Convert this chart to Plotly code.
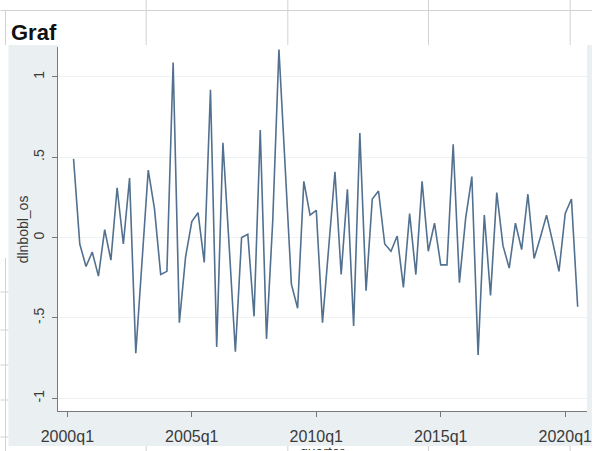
import plotly.graph_objects as go

# Quarterly first difference of log bobl_os, 2000q2 .. 2020q3
start_year = 2000
start_quarter = 2
dlnbobl_os = [
    0.49, -0.04, -0.18, -0.09, -0.24, 0.05, -0.14, 0.31, -0.04, 0.37,
    -0.72, -0.15, 0.42, 0.18, -0.23, -0.21, 1.09, -0.53, -0.12, 0.10,
    0.155, -0.155, 0.92, -0.68, 0.59, -0.05, -0.71, 0.00, 0.02, -0.49,
    0.67, -0.63, 0.10, 1.17, 0.45, -0.29, -0.44, 0.35, 0.14, 0.17,
    -0.53, -0.06, 0.41, -0.23, 0.30, -0.55, 0.65, -0.33, 0.24, 0.29,
    -0.04, -0.085, 0.01, -0.31, 0.15, -0.23, 0.35, -0.085, 0.09, -0.17,
    -0.17, 0.58, -0.28, 0.12, 0.38, -0.73, 0.14, -0.36, 0.28, -0.05,
    -0.19, 0.09, -0.075, 0.27, -0.13, 0.00, 0.14, -0.03, -0.21, 0.15,
    0.24, -0.43,
]
x_tick_labels = ["2000q1", "2005q1", "2010q1", "2015q1", "2020q1"]
y_tick_values = [-1, -0.5, 0, 0.5, 1]
y_tick_labels = ["-1", "-.5", "0", ".5", "1"]

base_year = 2000


def quarter_index(year, q):
    return (year - base_year) * 4 + (q - 1)


n = len(dlnbobl_os)
qidx = [quarter_index(start_year, start_quarter) + i for i in range(n)]
periods = [f"{base_year + k // 4}q{k % 4 + 1}" for k in qidx]
x_tick_vals = [quarter_index(int(s[:4]), int(s[-1])) for s in x_tick_labels]

W, H = 597, 451
ML, MR, MT, MB = 58, 5, 47, 40
PW, PH = W - ML - MR, H - MT - MB


def px(xp):
    return (xp - ML) / PW


def py(yp):
    return (H - MB - yp) / PH


fig = go.Figure()
fig.add_trace(go.Scatter(
    x=qidx, y=dlnbobl_os, mode="lines", text=periods,
    line=dict(color="#52708f", width=1.6),
    hovertemplate="%{text}: %{y}<extra></extra>",
))

grid_c = "#d2d2d2"
shapes = [
    # graph region (light bluish gray) and white plot region
    dict(type="rect", xref="paper", yref="paper", x0=px(8), x1=px(W), y0=py(446), y1=py(45),
         fillcolor="#eaf0f2", line=dict(width=0), layer="below"),
    dict(type="rect", xref="paper", yref="paper", x0=0, x1=1, y0=0, y1=py(45),
         fillcolor="white", line=dict(width=0), layer="below"),
    # spreadsheet cell borders around the embedded graph
    dict(type="line", xref="paper", yref="paper", x0=px(0), x1=px(W), y0=py(10.5), y1=py(10.5),
         line=dict(color=grid_c, width=1)),
    dict(type="line", xref="paper", yref="paper", x0=px(5), x1=px(5), y0=py(11), y1=py(45),
         line=dict(color=grid_c, width=1)),
    dict(type="line", xref="paper", yref="paper", x0=px(5), x1=px(5), y0=py(258), y1=py(H),
         line=dict(color=grid_c, width=1)),
]
for xc in [147, 290, 432, 575]:
    shapes.append(dict(type="line", xref="paper", yref="paper", x0=px(xc), x1=px(xc),
                       y0=py(0), y1=py(45), line=dict(color=grid_c, width=1)))
    shapes.append(dict(type="line", xref="paper", yref="paper", x0=px(xc), x1=px(xc),
                       y0=py(446), y1=py(H), line=dict(color=grid_c, width=1)))
for yr in [292, 330, 365, 400, 437]:
    shapes.append(dict(type="line", xref="paper", yref="paper", x0=px(0), x1=px(8),
                       y0=py(yr), y1=py(yr), line=dict(color=grid_c, width=1)))

annotations = [
    dict(text="<b>Graf</b>", xref="paper", yref="paper", x=px(9), y=py(18),
         xanchor="left", yanchor="top", showarrow=False,
         font=dict(family="Liberation Sans, Arial", size=22, color="#111111")),
    dict(text="dlnbobl_os", xref="paper", yref="paper", x=px(23), y=py(229),
         xanchor="center", yanchor="middle", textangle=-90, showarrow=False,
         font=dict(family="Liberation Sans, Arial", size=14, color="#3a3a3a")),
    dict(text="quarter", xref="paper", yref="paper", x=px(325), y=py(442),
         xanchor="center", yanchor="top", showarrow=False, height=6, valign="top",
         font=dict(family="Liberation Sans, Arial", size=14, color="#3a3a3a")),
]

fig.update_layout(
    width=W, height=H,
    margin=dict(l=ML, r=MR, t=MT, b=MB, pad=0),
    paper_bgcolor="white", plot_bgcolor="white",
    showlegend=False,
    shapes=shapes, annotations=annotations,
    xaxis=dict(
        range=[-1.5, 83.5], tickvals=x_tick_vals, ticktext=x_tick_labels,
        ticks="outside", ticklen=5, tickcolor="#777777", tickwidth=1,
        showline=True, linecolor="#7a7a7a", linewidth=1,
        showgrid=False, zeroline=False, ticklabelstandoff=6,
        tickfont=dict(family="Liberation Sans, Arial", size=16, color="#3a3a3a"),
    ),
    yaxis=dict(
        range=[-1.079, 1.186], tickvals=y_tick_values, ticktext=y_tick_labels,
        tickangle=-90,
        ticks="outside", ticklen=5, tickcolor="#777777", tickwidth=1,
        showline=True, linecolor="#7a7a7a", linewidth=1,
        showgrid=True, gridcolor="#edf2f3", gridwidth=1, zeroline=False,
        ticklabelstandoff=2,
        tickfont=dict(family="Liberation Sans, Arial", size=14, color="#3a3a3a"),
    ),
)

fig.write_html("out.html")
